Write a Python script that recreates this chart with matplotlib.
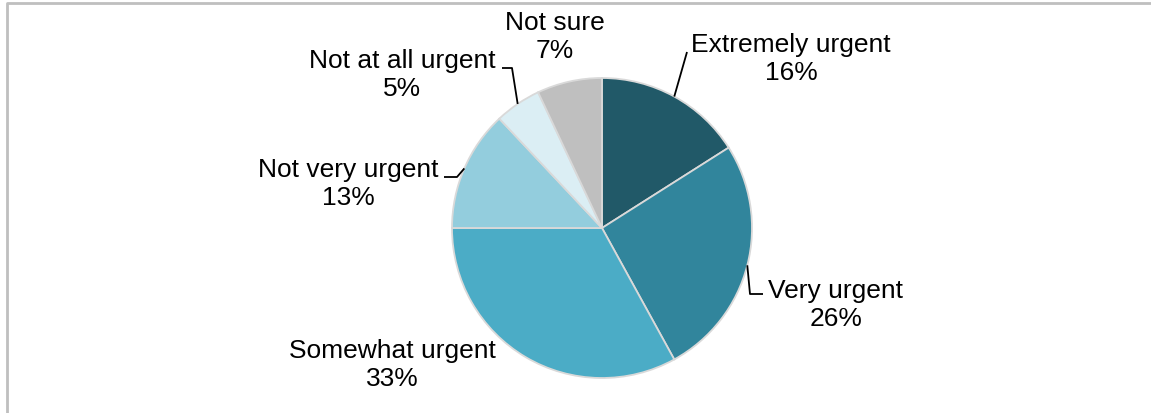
import numpy as np
import matplotlib.pyplot as plt

plt.rcParams['font.family'] = ['Liberation Sans', 'DejaVu Sans']

# Data

labels = ["Extremely urgent", "Very urgent", "Somewhat urgent",
          "Not very urgent", "Not at all urgent", "Not sure"]
shares = [16, 26, 33, 13, 5, 7]
colors = ["#215968", "#31859c", "#4bacc6", "#93cddd", "#dbeef4", "#bfbfbf"]

# label block centres in pixels (from top-left), and whether a leader line is drawn
label_pos = [(791, 59), (836, 305), (392, 365), (348, 184), (402, 75), (555, 37)]
leader = [True, True, False, True, True, False]

W, H = 1151, 414
cx, cy, R = 602, 229, 150

fig = plt.figure(figsize=(W / 100, H / 100), dpi=100)
ax = fig.add_axes((0, 0, 1, 1))

wedges, _ = ax.pie(shares, colors=colors, startangle=90, counterclock=False,
                   center=(cx, H - cy), radius=R, frame=True,
                   wedgeprops=dict(edgecolor="#d9d9d9", linewidth=1.3))
ax.set_xlim(0, W)
ax.set_ylim(0, H)
ax.set_aspect("equal")
ax.axis("off")

# Labels

for w, name, v, (lx, ly), lead in zip(wedges, labels, shares, label_pos, leader):
    ax.text(lx, H - ly, "%s\n%d%%" % (name, v), ha="center", va="center",
            fontsize=19, linespacing=1.26, color="black")
    if not lead:
        continue
    a = np.deg2rad((w.theta1 + w.theta2) / 2)
    ex, ey = cx + R * np.cos(a), H - cy + R * np.sin(a)
    if name == "Extremely urgent":
        pts = [(ex, ey), (687, H - 53)]
    elif name == "Very urgent":
        pts = [(ex, ey), (750, H - 295), (763, H - 295)]
    elif name == "Not very urgent":
        pts = [(ex, ey), (457, H - 178), (444, H - 178)]
    else:
        pts = [(ex, ey), (512, H - 69), (502, H - 69)]
    xs, ys = zip(*pts)
    ax.plot(xs, ys, color="black", lw=1.3, solid_capstyle="butt")

# Frame (top and left edge only visible)

ax.plot([6.5, 6.5, W], [0, H - 4, H - 4], color="#bfbfbf", lw=2, clip_on=False)

fig.savefig("out.png", dpi=100)
